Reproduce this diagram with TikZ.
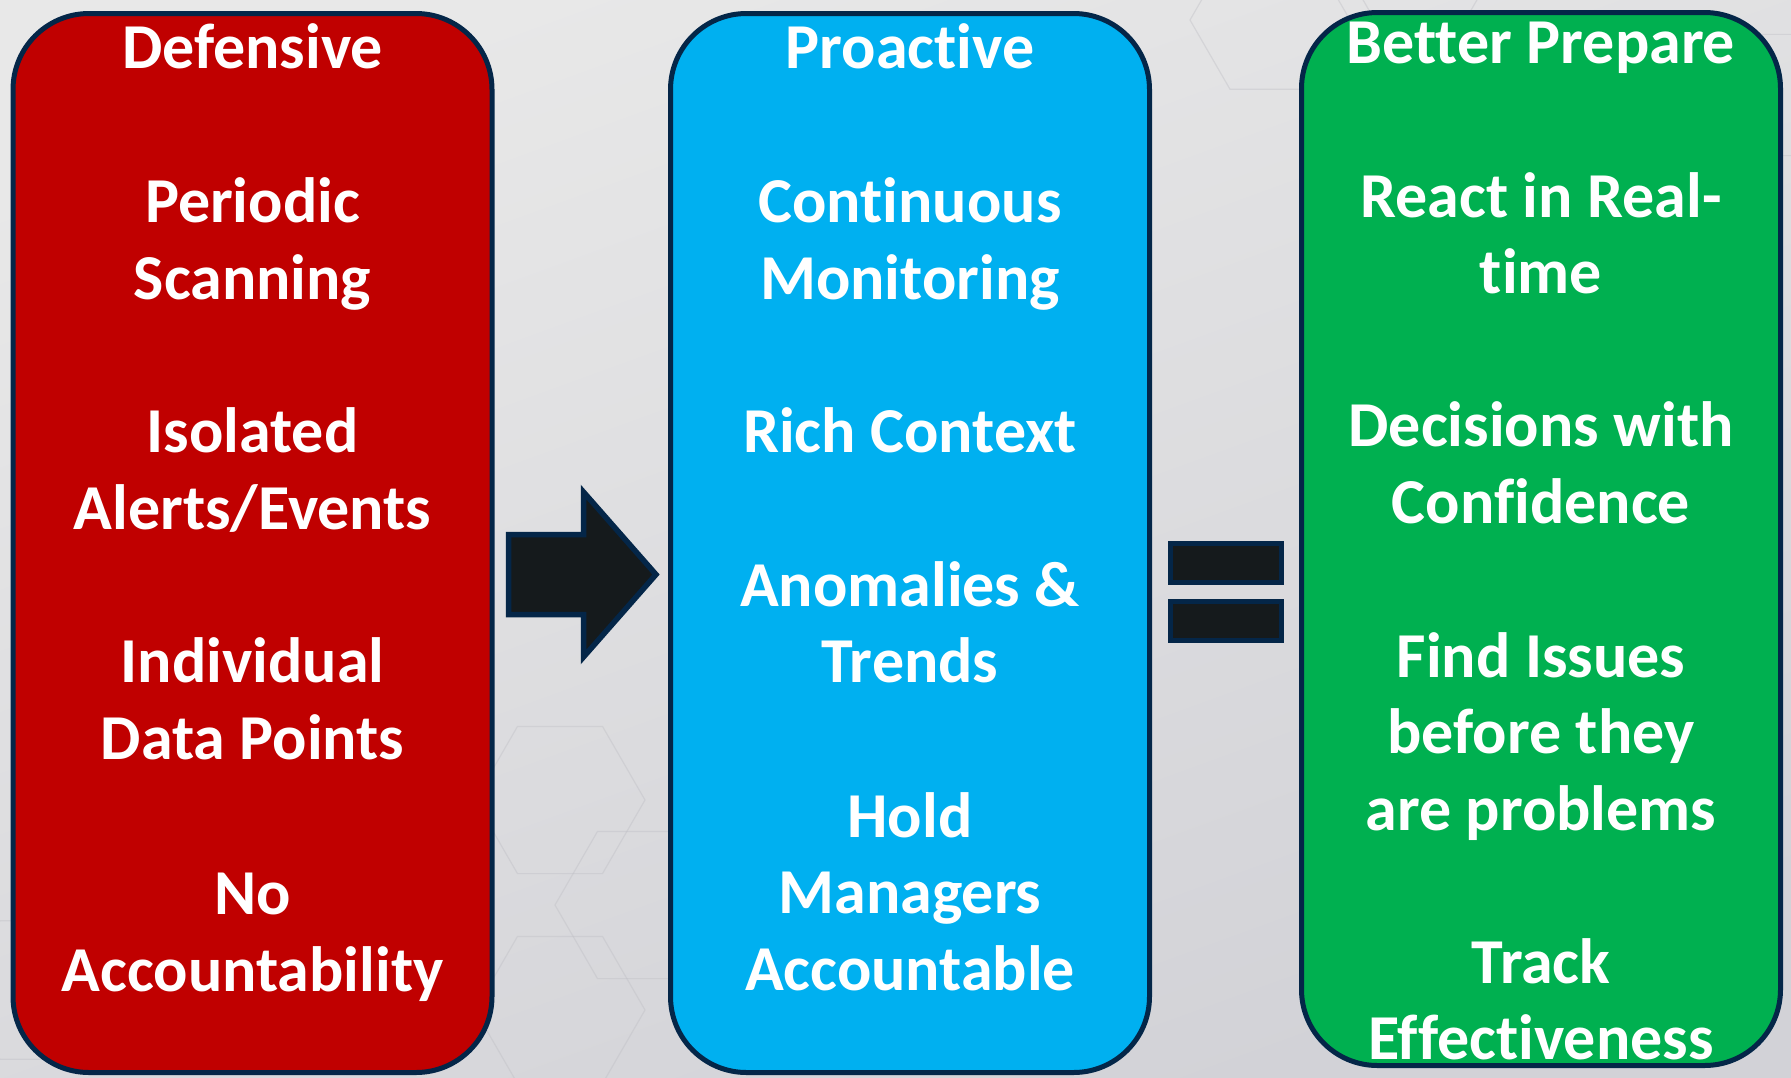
\documentclass[tikz,border=0pt]{standalone}
\usepackage{fontspec}
\setmainfont{Carlito}[Ligatures={NoCommon}]
\definecolor{frame}{RGB}{4,38,72}
\definecolor{redfill}{RGB}{192,0,0}
\definecolor{bluefill}{RGB}{0,176,240}
\definecolor{greenfill}{RGB}{0,176,80}
\definecolor{inkfill}{RGB}{21,26,28}
\definecolor{bglight}{RGB}{232,232,232}
\definecolor{bgdark}{RGB}{210,210,215}
\definecolor{hexline}{RGB}{190,190,196}
\tikzset{
  column/.style={draw=frame, line width=5pt, rounded corners=76pt, fill=#1,
    inner sep=0pt, minimum width=479pt},
  label/.style={text=white, anchor=base, inner sep=0pt,
    font=\fontsize{64}{77}\selectfont\bfseries},
  symbol/.style={draw=frame, line width=5.5pt, fill=inkfill, line join=miter},
  hexa/.style={draw=hexline, line width=1.2pt, opacity=0.4}
}
\begin{document}
\begin{tikzpicture}[x=1pt, y=-1pt]
  % backdrop
  \shade[top color=bglight, bottom color=bgdark, shading angle=20]
    (0,0) rectangle (1791,1077);
  \useasboundingbox (0,0) rectangle (1791,1077);

  % faint hexagonal texture
  \foreach \cx/\cy/\r in {560/1010/85, 640/905/85, 560/800/85, 1270/20/80, 1420/-40/80, 1760/95/70, 40/990/80}{
    \draw[hexa] (\cx+\r,\cy) -- (\cx+\r/2,\cy+0.866*\r) -- (\cx-\r/2,\cy+0.866*\r)
      -- (\cx-\r,\cy) -- (\cx-\r/2,\cy-0.866*\r) -- (\cx+\r/2,\cy-0.866*\r) -- cycle;
  }

  % the three columns
  \node[column=redfill,   minimum height=1059pt] (defbox) at (252.5,543) {};
  \node[column=bluefill,  minimum height=1059pt] (probox) at (910,543) {};
  \node[column=greenfill, minimum height=1053pt] (prepbox) at (1541,539) {};

  % block arrow between the first two columns
  \draw[symbol] (508.5,534.5) -- (583.5,534.5) -- (583.5,492) -- (656,574.5)
    -- (583.5,657) -- (583.5,614.5) -- (508.5,614.5) -- cycle;

  % equals sign between the last two columns
  \draw[symbol] (1170.5,543.5) rectangle (1281.5,582.5);
  \draw[symbol] (1170.5,601.5) rectangle (1281.5,640.5);

  % Defensive column
  \node[label] (d0) at (252.5,68.5) {Defensive};
  \node[label] (d1) at (252.5,222.5) {Periodic};
  \node[label] (d2) at (252.5,299) {Scanning};
  \node[label] (d3) at (252.5,452) {Isolated};
  \node[label] (d4) at (252.5,529) {Alerts/Events};
  \node[label] (d5) at (252.5,682.5) {Individual};
  \node[label] (d6) at (252.5,759.5) {Data Points};
  \node[label] (d7) at (252.5,914) {No};
  \node[label] (d8) at (252.5,991) {Accountability};

  % Proactive column
  \node[label] (p0) at (910,68.5) {Proactive};
  \node[label] (p1) at (910,222.5) {Continuous};
  \node[label] (p2) at (910,299) {Monitoring};
  \node[label] (p3) at (910,452) {Rich Context};
  \node[label] (p4) at (910,606) {Anomalies \&};
  \node[label] (p5) at (910,682.5) {Trends};
  \node[label] (p6) at (910,837) {Hold};
  \node[label] (p7) at (910,913.5) {Managers};
  \node[label] (p8) at (910,990) {Accountable};

  % Better Prepare column
  \node[label] (b0) at (1541,63) {Better Prepare};
  \node[label] (b1) at (1541,217) {React in Real-};
  \node[label] (b2) at (1541,293) {time};
  \node[label] (b3) at (1541,446.5) {Decisions with};
  \node[label] (b4) at (1541,523) {Confidence};
  \node[label] (b5) at (1541,677) {Find Issues};
  \node[label] (b6) at (1541,753.5) {before they};
  \node[label] (b7) at (1541,830) {are problems};
  \node[label] (b8) at (1541,983) {Track};
  \node[label] (b9) at (1541,1059) {Effectiveness};
\end{tikzpicture}
\end{document}
